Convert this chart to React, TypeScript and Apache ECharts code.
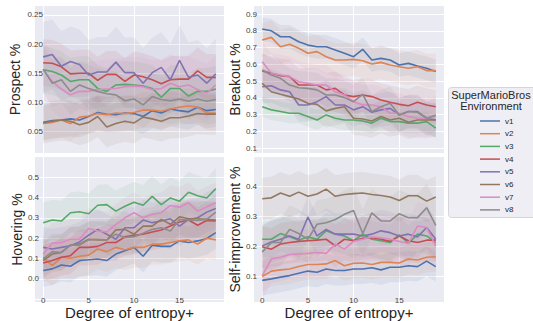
import React, { useEffect, useRef } from "react";
import * as echarts from "echarts";

const steps = [0, 1, 2, 3, 4, 5, 6, 7, 8, 9, 10, 11, 12, 13, 14, 15, 16, 17, 18, 19];
const seriesNames = ["v1", "v2", "v3", "v4", "v5", "v6", "v7", "v8"];
const colors = ["#4C72B0", "#DD8452", "#55A868", "#C44E52", "#8172B3", "#937860", "#DA8BC3", "#8C8C8C"];
const panelTitles = ["Prospect %", "Breakout %", "Hovering %", "Self-improvement %"];
const xTitle = "Degree of entropy+";
const legendTitle = ["SuperMarioBros", "Environment"];
const xTicks = [0, 5, 10, 15];

const prospectTicks = [0.05, 0.1, 0.15, 0.2, 0.25];
const breakoutTicks = [0.1, 0.2, 0.3, 0.4, 0.5, 0.6, 0.7, 0.8, 0.9];
const hoverGrid = [-0.1, 0.0, 0.1, 0.2, 0.3, 0.4, 0.5];
const hoverTicks = [0.0, 0.1, 0.2, 0.3, 0.4, 0.5];
const selfTicks = [0.1, 0.2, 0.3, 0.4];

const prospect = [
  [0.066, 0.069, 0.070, 0.072, 0.070, 0.076, 0.083, 0.080, 0.079, 0.082, 0.081, 0.076, 0.086, 0.082, 0.089, 0.086, 0.084, 0.092, 0.086, 0.088],
  [0.064, 0.066, 0.070, 0.064, 0.075, 0.077, 0.081, 0.079, 0.082, 0.081, 0.083, 0.087, 0.087, 0.085, 0.089, 0.092, 0.094, 0.092, 0.082, 0.082],
  [0.156, 0.153, 0.147, 0.136, 0.139, 0.139, 0.124, 0.119, 0.130, 0.131, 0.130, 0.128, 0.124, 0.109, 0.124, 0.124, 0.111, 0.119, 0.119, 0.123],
  [0.168, 0.167, 0.161, 0.149, 0.150, 0.150, 0.138, 0.148, 0.148, 0.136, 0.147, 0.144, 0.139, 0.132, 0.139, 0.140, 0.140, 0.154, 0.143, 0.143],
  [0.178, 0.182, 0.162, 0.170, 0.165, 0.147, 0.152, 0.152, 0.169, 0.151, 0.151, 0.133, 0.151, 0.160, 0.139, 0.172, 0.143, 0.147, 0.133, 0.149],
  [0.065, 0.068, 0.070, 0.068, 0.062, 0.066, 0.076, 0.058, 0.064, 0.068, 0.065, 0.075, 0.072, 0.068, 0.074, 0.074, 0.077, 0.081, 0.080, 0.080],
  [0.156, 0.136, 0.123, 0.113, 0.119, 0.119, 0.122, 0.123, 0.124, 0.127, 0.128, 0.127, 0.122, 0.124, 0.133, 0.127, 0.130, 0.122, 0.116, 0.130],
  [0.157, 0.133, 0.139, 0.119, 0.130, 0.124, 0.119, 0.115, 0.113, 0.103, 0.106, 0.096, 0.110, 0.105, 0.103, 0.106, 0.102, 0.106, 0.102, 0.105],
];
const breakout = [
  [0.811, 0.800, 0.765, 0.765, 0.735, 0.715, 0.705, 0.705, 0.686, 0.666, 0.646, 0.690, 0.626, 0.636, 0.626, 0.596, 0.606, 0.590, 0.577, 0.557],
  [0.745, 0.761, 0.705, 0.720, 0.696, 0.666, 0.676, 0.646, 0.626, 0.626, 0.630, 0.622, 0.602, 0.612, 0.596, 0.586, 0.577, 0.586, 0.563, 0.563],
  [0.348, 0.329, 0.319, 0.309, 0.309, 0.289, 0.269, 0.299, 0.279, 0.269, 0.269, 0.263, 0.250, 0.279, 0.259, 0.259, 0.250, 0.250, 0.259, 0.220],
  [0.561, 0.547, 0.533, 0.527, 0.477, 0.477, 0.477, 0.448, 0.457, 0.418, 0.408, 0.418, 0.408, 0.388, 0.374, 0.362, 0.354, 0.374, 0.358, 0.348],
  [0.467, 0.473, 0.448, 0.437, 0.358, 0.358, 0.378, 0.408, 0.358, 0.358, 0.329, 0.348, 0.315, 0.329, 0.338, 0.299, 0.319, 0.319, 0.279, 0.269],
  [0.487, 0.437, 0.422, 0.408, 0.394, 0.368, 0.362, 0.323, 0.338, 0.348, 0.279, 0.275, 0.263, 0.289, 0.269, 0.279, 0.255, 0.269, 0.269, 0.269],
  [0.616, 0.547, 0.537, 0.527, 0.497, 0.487, 0.477, 0.477, 0.437, 0.418, 0.378, 0.358, 0.358, 0.348, 0.309, 0.309, 0.289, 0.279, 0.279, 0.289],
  [0.567, 0.537, 0.517, 0.477, 0.461, 0.457, 0.448, 0.418, 0.418, 0.402, 0.378, 0.422, 0.319, 0.348, 0.368, 0.299, 0.319, 0.315, 0.279, 0.299],
];
const hovering = [
  [0.041, 0.049, 0.068, 0.062, 0.090, 0.094, 0.098, 0.090, 0.122, 0.138, 0.155, 0.111, 0.166, 0.160, 0.160, 0.187, 0.179, 0.187, 0.199, 0.228],
  [0.106, 0.065, 0.106, 0.101, 0.111, 0.117, 0.147, 0.134, 0.155, 0.143, 0.155, 0.155, 0.171, 0.171, 0.179, 0.187, 0.192, 0.171, 0.200, 0.192],
  [0.277, 0.290, 0.285, 0.326, 0.331, 0.321, 0.363, 0.366, 0.334, 0.358, 0.378, 0.363, 0.407, 0.366, 0.399, 0.383, 0.427, 0.410, 0.399, 0.445],
  [0.078, 0.090, 0.106, 0.114, 0.155, 0.155, 0.160, 0.179, 0.179, 0.207, 0.215, 0.220, 0.231, 0.241, 0.260, 0.280, 0.290, 0.264, 0.288, 0.285],
  [0.155, 0.147, 0.155, 0.163, 0.182, 0.215, 0.244, 0.220, 0.195, 0.252, 0.252, 0.290, 0.277, 0.285, 0.296, 0.260, 0.293, 0.301, 0.329, 0.347],
  [0.090, 0.122, 0.130, 0.166, 0.171, 0.195, 0.192, 0.192, 0.241, 0.244, 0.220, 0.260, 0.260, 0.293, 0.269, 0.306, 0.296, 0.296, 0.293, 0.290],
  [0.122, 0.176, 0.179, 0.195, 0.195, 0.248, 0.236, 0.231, 0.269, 0.301, 0.326, 0.301, 0.318, 0.326, 0.362, 0.353, 0.375, 0.334, 0.355, 0.375],
  [0.098, 0.134, 0.130, 0.166, 0.166, 0.192, 0.195, 0.192, 0.220, 0.204, 0.208, 0.225, 0.244, 0.252, 0.236, 0.293, 0.290, 0.288, 0.293, 0.329],
];
const selfImprovement = [
  [0.087, 0.092, 0.098, 0.103, 0.111, 0.118, 0.114, 0.125, 0.120, 0.120, 0.125, 0.125, 0.129, 0.122, 0.131, 0.131, 0.136, 0.133, 0.151, 0.133],
  [0.100, 0.118, 0.122, 0.125, 0.133, 0.140, 0.140, 0.142, 0.153, 0.136, 0.144, 0.145, 0.140, 0.147, 0.147, 0.145, 0.158, 0.155, 0.164, 0.166],
  [0.224, 0.224, 0.243, 0.232, 0.221, 0.232, 0.224, 0.252, 0.241, 0.235, 0.219, 0.241, 0.224, 0.219, 0.213, 0.239, 0.210, 0.241, 0.235, 0.213],
  [0.199, 0.191, 0.208, 0.213, 0.217, 0.219, 0.221, 0.224, 0.202, 0.224, 0.219, 0.227, 0.229, 0.224, 0.217, 0.235, 0.219, 0.213, 0.221, 0.221],
  [0.202, 0.215, 0.224, 0.235, 0.224, 0.298, 0.235, 0.257, 0.241, 0.241, 0.241, 0.235, 0.241, 0.252, 0.246, 0.235, 0.241, 0.232, 0.263, 0.224],
  [0.359, 0.362, 0.378, 0.367, 0.381, 0.367, 0.375, 0.391, 0.367, 0.373, 0.376, 0.378, 0.373, 0.370, 0.365, 0.353, 0.369, 0.369, 0.351, 0.365],
  [0.103, 0.158, 0.164, 0.173, 0.175, 0.177, 0.180, 0.177, 0.208, 0.191, 0.217, 0.224, 0.232, 0.229, 0.224, 0.217, 0.210, 0.268, 0.263, 0.202],
  [0.182, 0.213, 0.213, 0.257, 0.243, 0.224, 0.274, 0.279, 0.290, 0.307, 0.320, 0.243, 0.312, 0.285, 0.285, 0.309, 0.296, 0.296, 0.329, 0.270],
];

// half-width of the shaded confidence band for each version
const prospectBand = [0.03, 0.03, 0.04, 0.04, 0.06, 0.035, 0.05, 0.04];
const breakoutBand = [0.07, 0.1, 0.06, 0.1, 0.1, 0.1, 0.12, 0.1];
const hoveringBand = [0.08, 0.1, 0.1, 0.09, 0.1, 0.09, 0.1, 0.09];
const selfBand = [0.05, 0.05, 0.06, 0.07, 0.07, 0.07, 0.08, 0.08];

const FONT = "'Liberation Sans', Arial, sans-serif";
const TXT = "#262626";
const TICK = "#444";

const panels = [
  { data: prospect, band: prospectBand, grid: prospectTicks, labels: prospectTicks, min: 0.0136, max: 0.265, dec: 2, left: 35, top: 6, width: 189, labelMargin: -8, nameGap: 13, showX: false },
  { data: breakout, band: breakoutBand, grid: breakoutTicks, labels: breakoutTicks, min: 0.072, max: 0.948, dec: 1, left: 254, top: 6, width: 190, labelMargin: -3, nameGap: 9, showX: false },
  { data: hovering, band: hoveringBand, grid: hoverGrid, labels: hoverTicks, min: -0.115, max: 0.601, dec: 1, left: 35, top: 157, width: 189, labelMargin: -4, nameGap: 10, showX: true },
  { data: selfImprovement, band: selfBand, grid: selfTicks, labels: selfTicks, min: 0.0147, max: 0.498, dec: 1, left: 254, top: 157, width: 190, labelMargin: -3, nameGap: 9, showX: true },
];

export default function App() {
  const ref = useRef<HTMLDivElement>(null);
  useEffect(() => {
    if (!ref.current) return;
    const chart = echarts.init(ref.current, undefined, { renderer: "svg" });

    const grid = panels.map((p) => ({
      left: p.left, top: p.top, width: p.width, height: 147,
      show: true, backgroundColor: "#EAEAF2", borderWidth: 0, containLabel: false,
    }));

    const xAxis = panels.map((p, i) => ({
      type: "value", gridIndex: i, min: -0.9, max: 19.9,
      axisLine: { show: false },
      axisTick: { show: false, customValues: xTicks },
      splitLine: { show: true, lineStyle: { color: "#FFFFFF", width: 1 } },
      axisLabel: {
        show: p.showX, customValues: xTicks, margin: -6, fontSize: 8, color: TICK, fontFamily: FONT,
      },
      name: p.showX ? xTitle : "",
      nameLocation: "middle", nameGap: 1,
      nameTextStyle: { fontSize: 15, color: TXT, fontFamily: FONT, verticalAlign: "top" },
    }));

    const yAxis = panels.map((p, i) => ({
      type: "value", gridIndex: i, min: p.min, max: p.max,
      axisLine: { show: false },
      axisTick: { show: false, customValues: p.grid },
      splitLine: { show: true, lineStyle: { color: "#FFFFFF", width: 1 } },
      axisLabel: {
        customValues: p.labels, margin: p.labelMargin, fontSize: 8, color: TICK, fontFamily: FONT,
        formatter: (v: number) => v.toFixed(p.dec),
      },
      name: panelTitles[i], nameLocation: "middle", nameGap: p.nameGap,
      nameTextStyle: { fontSize: 14, color: TXT, fontFamily: FONT },
    }));

    const series: any[] = [];
    panels.forEach((p, pi) => {
      p.data.forEach((vals, si) => {
        const w = p.band[si];
        const rows = vals.map((v, k) => [steps[k], v - w, v + w]);
        series.push({
          type: "custom", name: `band_${pi}_${si}`, xAxisIndex: pi, yAxisIndex: pi,
          data: rows, silent: true, z: 1, clip: true,
          encode: { x: 0, y: [1, 2] },
          renderItem: (params: any, api: any) => {
            if (params.dataIndex !== 0) return null;
            const upper = rows.map((r) => api.coord([r[0], r[2]]));
            const lower = rows.map((r) => api.coord([r[0], r[1]])).reverse();
            return {
              type: "polygon",
              shape: { points: upper.concat(lower) },
              style: { fill: colors[si], opacity: 0.1 },
              silent: true,
            };
          },
        });
      });
    });
    panels.forEach((p, pi) => {
      p.data.forEach((vals, si) => {
        series.push({
          type: "line", name: seriesNames[si], xAxisIndex: pi, yAxisIndex: pi,
          data: vals.map((v, k) => [steps[k], v]),
          symbol: "none", z: 3,
          lineStyle: { color: colors[si], width: 1.6 },
          itemStyle: { color: colors[si] },
        });
      });
    });

    chart.setOption({
      animation: false,
      grid, xAxis, yAxis, series,
      legend: {
        data: seriesNames, orient: "vertical", left: 475, top: 111,
        icon: "rect", itemWidth: 20, itemHeight: 1.5, itemGap: 2.7,
        textStyle: { fontSize: 8, color: TXT, fontFamily: FONT, lineHeight: 10 },
        selectedMode: false,
      },
      graphic: [
        {
          type: "rect", left: 448, top: 87, z: -1,
          shape: { width: 95, height: 130, r: 3 },
          style: { fill: "#EEEEF4", stroke: "#D4D4DA", lineWidth: 1 },
        },
        {
          type: "text", x: 491, y: 95,
          style: { text: legendTitle[0], fontSize: 11, fill: TXT, fontFamily: FONT, align: "center", verticalAlign: "middle" },
        },
        {
          type: "text", x: 491, y: 105.7,
          style: { text: legendTitle[1], fontSize: 11, fill: TXT, fontFamily: FONT, align: "center", verticalAlign: "middle" },
        },
      ],
    });
    return () => chart.dispose();
  }, []);
  return <div ref={ref} style={{ position: "absolute", left: 0, top: 0, width: 533, height: 321 }} />;
}
